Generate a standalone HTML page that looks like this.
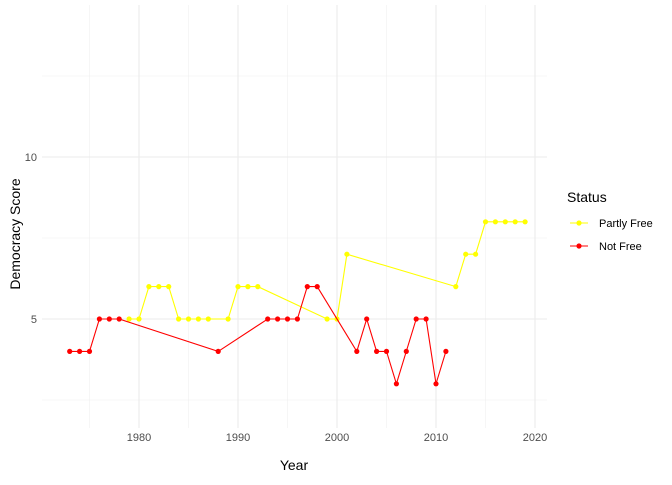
<!DOCTYPE html>
<html><head><style>body{margin:0;background:#fff;font-family:"Liberation Sans",Arial,sans-serif}</style></head>
<body>
<svg id="c" width="672" height="480" xmlns="http://www.w3.org/2000/svg"></svg>
<script>
const nfYears=[1973,1974,1975,1976,1977,1978,1988,1993,1994,1995,1996,1997,1998,2002,2003,2004,2005,2006,2007,2008,2009,2010,2011];
const nfScores=[4,4,4,5,5,5,4,5,5,5,5,6,6,4,5,4,4,3,4,5,5,3,4];
const pfYears=[1979,1980,1981,1982,1983,1984,1985,1986,1987,1989,1990,1991,1992,1999,2000,2001,2012,2013,2014,2015,2016,2017,2018,2019];
const pfScores=[5,5,6,6,6,5,5,5,5,5,6,6,6,5,5,7,6,7,7,8,8,8,8,8];
const xTicks=[1980,1990,2000,2010,2020];
const yTicks=[5,10];
const NS="http://www.w3.org/2000/svg";
const svg=document.getElementById('c');
const X=v=>139+(v-1980)*9.9;
const Y=v=>319-(v-5)*32.4;
function mk(t,a,p){const e=document.createElementNS(NS,t);for(const k in a)e.setAttribute(k,a[k]);(p||svg).appendChild(e);return e;}
const grid=mk('g',{});


[2.5,7.5,12.5].forEach(v=>mk('line',{x1:42,x2:547,y1:Y(v),y2:Y(v),stroke:'#f0f0f0','stroke-width':0.6},grid));
[1975,1985,1995,2005,2015].forEach(v=>mk('line',{x1:X(v),x2:X(v),y1:5,y2:428,stroke:'#f0f0f0','stroke-width':0.6},grid));
yTicks.forEach(v=>{mk('line',{x1:42,x2:547,y1:Y(v),y2:Y(v),stroke:'#ebebeb','stroke-width':1.1},grid);
 const t=mk('text',{x:37,y:Y(v)+4,'text-anchor':'end','font-size':11,fill:'#4d4d4d'});t.textContent=v;
 });
xTicks.forEach(v=>{mk('line',{x1:X(v),x2:X(v),y1:5,y2:428,stroke:'#ebebeb','stroke-width':1.1},grid);
 const t=mk('text',{x:X(v),y:441,'text-anchor':'middle','font-size':11,fill:'#4d4d4d'});t.textContent=v;
 });
function series(xs,ys,col,name){
 const g=mk('g',{});
 
 
 mk('polyline',{points:xs.map((x,i)=>X(x)+','+Y(ys[i])).join(' '),fill:'none',stroke:col,'stroke-width':1.1},g);
 xs.forEach((x,i)=>{const c=mk('circle',{cx:X(x),cy:Y(ys[i]),r:2.6,fill:col},g);
  });
}
series(pfYears,pfScores,'#ffff00','series-partly-free');
series(nfYears,nfScores,'#ff0000','series-not-free');
let t=mk('text',{x:294,y:470,'text-anchor':'middle','font-size':14,fill:'#000'});t.textContent='Year';

t=mk('text',{x:0,y:0,'text-anchor':'middle','font-size':14,fill:'#000',transform:'translate(20,234) rotate(-90)'});t.textContent='Democracy Score';

t=mk('text',{x:567,y:202,'font-size':14,fill:'#000'});t.textContent='Status';

[['Partly Free','#ffff00',223],['Not Free','#ff0000',246]].forEach(([l,c,y])=>{
 const g=mk('g',{});
 
 
 mk('line',{x1:570,x2:588,y1:y,y2:y,stroke:c,'stroke-width':1.1},g);
 mk('circle',{cx:579,cy:y,r:2.6,fill:c},g);
 const tt=mk('text',{x:599,y:y+4,'font-size':11,fill:'#000'},g);tt.textContent=l;
});
</script>
</body></html>
